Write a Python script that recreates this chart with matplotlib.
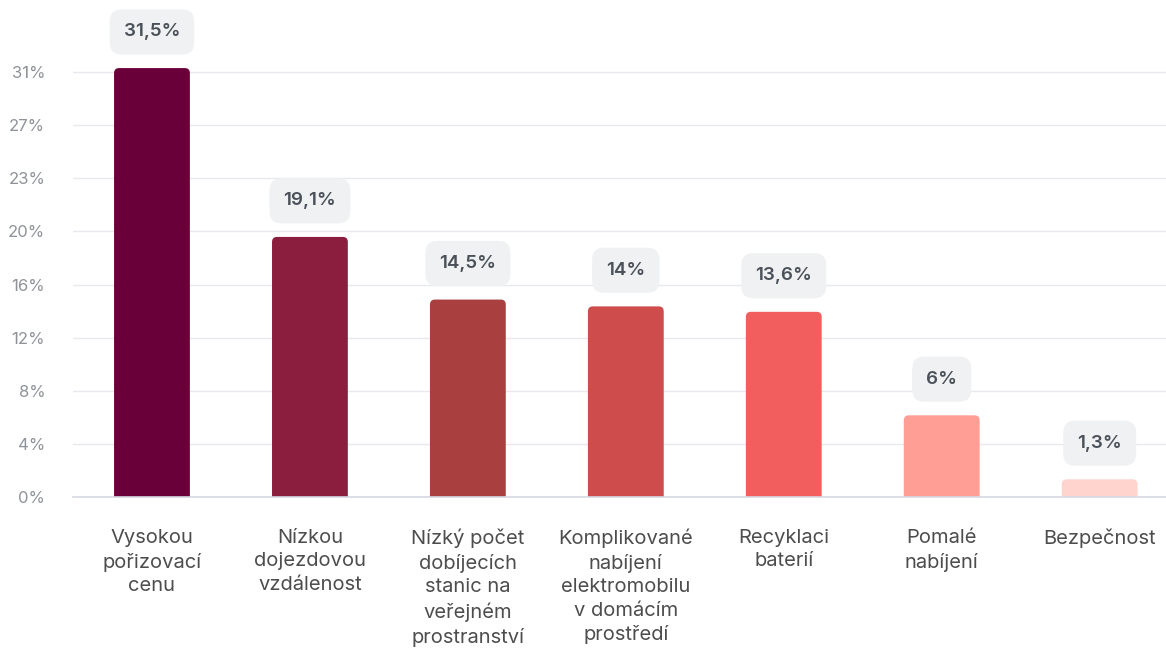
import matplotlib
matplotlib.use('Agg')
import matplotlib.pyplot as plt
from matplotlib.patches import FancyBboxPatch

plt.rcParams['font.family'] = ['Inter', 'DejaVu Sans']

# data
categories = [
    "Vysokou\npořizovací\ncenu",
    "Nízkou\ndojezdovou\nvzdálenost",
    "Nízký počet\ndobíjecích\nstanic na\nveřejném\nprostranství",
    "Komplikované\nnabíjení\nelektromobilu\nv domácím\nprostředí",
    "Recyklaci\nbaterií",
    "Pomalé\nnabíjení",
    "Bezpečnost",
]
values = [31.5, 19.1, 14.5, 14.0, 13.6, 6.0, 1.3]
value_labels = ["31,5%", "19,1%", "14,5%", "14%", "13,6%", "6%", "1,3%"]
colors = ["#6a0039", "#8b1e3e", "#a93f3f", "#cf4c4c", "#f25d5d", "#ff9e95", "#ffd4ce"]
ytick_vals = [0, 3.9, 7.8, 11.7, 15.6, 19.5, 23.4, 27.3, 31.2]
ytick_labels = ["0%", "4%", "8%", "12%", "16%", "20%", "23%", "27%", "31%"]

W, H = 1166, 655
fig = plt.figure(figsize=(W / 100, H / 100), dpi=100)
ax = fig.add_axes([73 / W, 1 - 497 / H, 1 - 73 / W, 497 / H])
ax.set_xlim(-0.5, 6.42)
ax.set_ylim(0, 36.5)

x = list(range(len(values)))
bars = ax.bar(x, values, width=0.48, color=colors, zorder=2)

# swap plain bars for ones with rounded tops
fig.canvas.draw()
px_x = ax.transData.transform((1, 0))[0] - ax.transData.transform((0, 0))[0]
px_y = ax.transData.transform((0, 1))[1] - ax.transData.transform((0, 0))[1]
r_px = 5
r = r_px / px_x
aspect = px_x / px_y
for b in bars:
    b.set_visible(False)
    p = FancyBboxPatch((b.get_x(), -2), b.get_width(), b.get_height() + 2,
                       boxstyle=f"round,pad=0,rounding_size={r}",
                       mutation_aspect=aspect, facecolor=b.get_facecolor(),
                       edgecolor='none', zorder=2)
    ax.add_patch(p)

for xi, v, lab in zip(x, values, value_labels):
    ax.annotate(lab, (xi, v), xytext=(0, 26), textcoords='offset points',
                ha='center', va='center', fontsize=13.5, fontweight='semibold',
                color='#4a5159', zorder=4,
                bbox=dict(boxstyle='round,pad=0.75,rounding_size=0.65',
                          facecolor='#eff1f2', edgecolor='none'))

ax.set_yticks(ytick_vals)
ax.set_yticklabels(ytick_labels)
ax.set_xticks(x)
ax.set_xticklabels(categories, linespacing=1.38, fontsize=14.5, color='#4d4d4d', va='top')
ax.tick_params(axis='y', length=0, pad=20, labelsize=12, labelcolor='#8f9399')
ax.tick_params(axis='x', length=0, pad=23)

ax.grid(axis='y', color='#e8e9ee', linewidth=1, zorder=0)
ax.set_axisbelow(True)
for s in ['top', 'right', 'left']:
    ax.spines[s].set_visible(False)
ax.spines['bottom'].set_color('#d6d8e4')
ax.spines['bottom'].set_linewidth(1.2)
ax.spines['bottom'].set_zorder(3)

fig.savefig('out.png', dpi=100)
